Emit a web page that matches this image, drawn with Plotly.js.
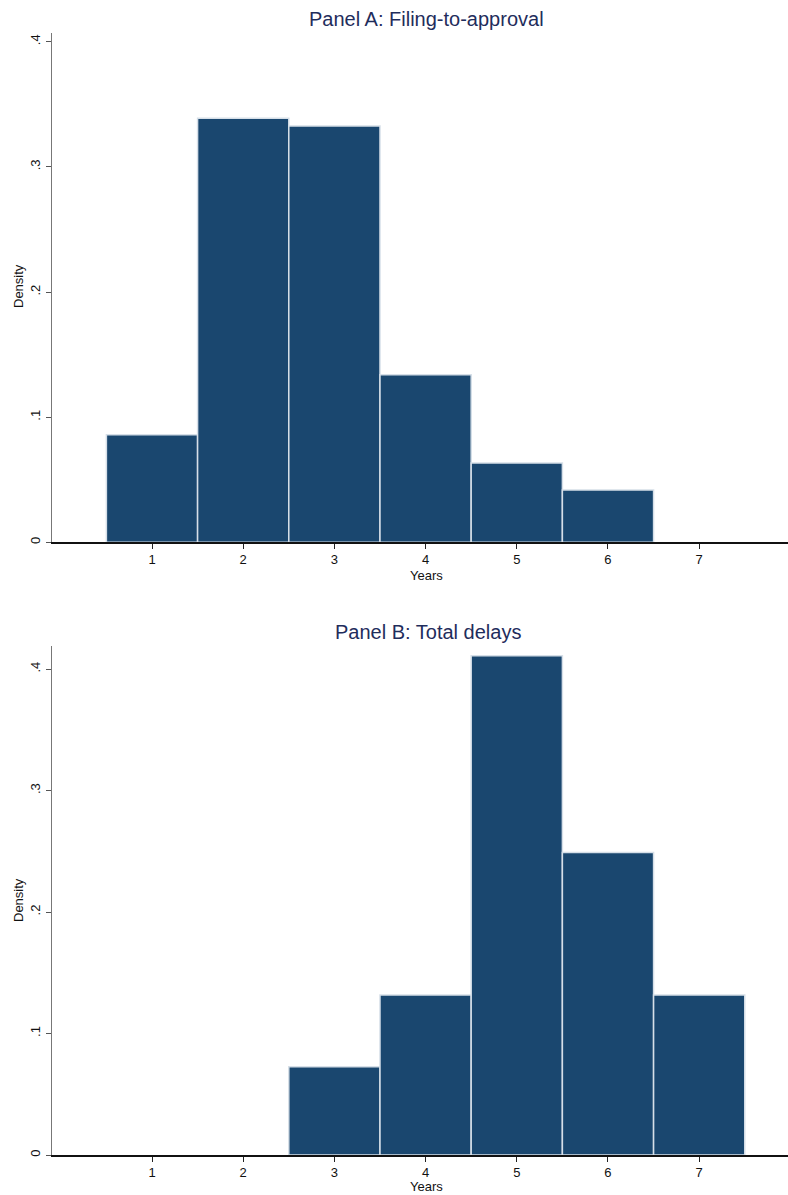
<!DOCTYPE html>
<html>
<head>
<meta charset="utf-8">
<script src="https://cdn.plot.ly/plotly-3.0.1.min.js"></script>
<style>
  html, body { margin: 0; padding: 0; background: #ffffff; }
  #chart { width: 788px; height: 1195px; }
</style>
</head>
<body>
<div id="chart"></div>
<script>
// Histogram bins (years) and densities for each panel
const yearsA = [1, 2, 3, 4, 5, 6];
const densityA = [0.086, 0.3388, 0.3326, 0.1339, 0.0634, 0.0418];

const yearsB = [3, 4, 5, 6, 7];
const densityB = [0.0727, 0.1317, 0.411, 0.249, 0.1317];

const xTicks = [1, 2, 3, 4, 5, 6, 7];
const yTickVals = [0, 0.1, 0.2, 0.3, 0.4];
const yTickText = ['0', '.1', '.2', '.3', '.4'];

const panelTitles = ['Panel A: Filing-to-approval', 'Panel B: Total delays'];
const xLabel = 'Years';
const yLabel = 'Density';

const W = 788, H = 1195;
const barColor = '#1a476f';
const titleColor = '#1f2d5c';
const font = 'Liberation Sans, Arial, sans-serif';

function barTrace(x, y, xa, ya) {
  return {
    type: 'bar', x: x, y: y, xaxis: xa, yaxis: ya, width: 1,
    marker: { color: barColor, line: { color: '#d6dfe8', width: 1.5 } },
    hoverinfo: 'x+y', showlegend: false
  };
}

const px = v => v / W;
const py = v => 1 - v / H;

function xAxis(anchor) {
  return {
    domain: [px(52), 1], range: [-0.0965, 7.974], anchor: anchor,
    tickvals: xTicks, ticks: 'outside', ticklen: 5, tickcolor: '#222',
    ticklabelstandoff: 0,
    showline: true, linecolor: '#111', linewidth: 1.5, showgrid: false,
    zeroline: false, tickfont: { family: font, size: 13, color: '#111' }
  };
}
function yAxis(anchor, domain, top) {
  return {
    domain: domain, range: [0, top], anchor: anchor,
    tickvals: yTickVals, ticktext: yTickText, tickangle: -90,
    ticks: 'outside', ticklen: 5, tickcolor: '#555',
    showline: true, linecolor: '#777', linewidth: 1.5, showgrid: false,
    zeroline: false, tickfont: { family: font, size: 13, color: '#111' }
  };
}

const data = [
  barTrace(yearsA, densityA, 'x', 'y'),
  barTrace(yearsB, densityB, 'x2', 'y2')
];

function txt(text, x, y, size, color, angle) {
  return {
    text: text, xref: 'paper', yref: 'paper', x: px(x), y: py(y),
    xanchor: 'center', yanchor: 'middle', showarrow: false, textangle: angle || 0,
    font: { family: font, size: size, color: color }
  };
}

const layout = {
  width: W, height: H,
  margin: { l: 0, r: 0, t: 0, b: 0 },
  paper_bgcolor: '#ffffff', plot_bgcolor: '#ffffff',
  bargap: 0,
  xaxis: xAxis('y'),
  yaxis: yAxis('x', [py(542.3), py(33)], 0.407),
  xaxis2: xAxis('y2'),
  yaxis2: yAxis('x2', [py(1155), py(645.7)], 0.4192),
  annotations: [
    txt(panelTitles[0], 426, 19, 20, titleColor),
    txt(panelTitles[1], 428, 632, 20, titleColor),
    txt(xLabel, 426, 575, 13, '#111'),
    txt(xLabel, 426, 1186, 13, '#111'),
    txt(yLabel, 18, 286, 13, '#111', -90),
    txt(yLabel, 18, 900, 13, '#111', -90)
  ]
};

Plotly.newPlot('chart', data, layout, { displayModeBar: false, staticPlot: true });
</script>
</body>
</html>
